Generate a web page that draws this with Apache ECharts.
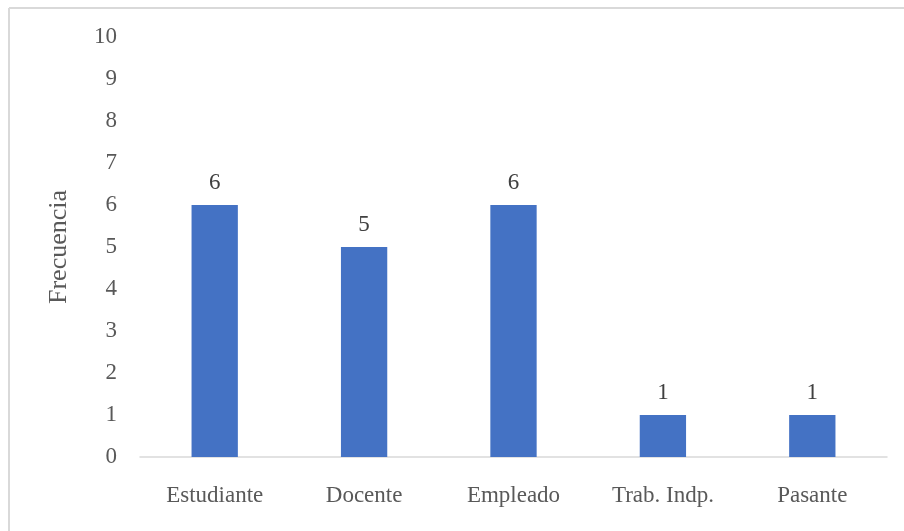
<!DOCTYPE html>
<html>
<head>
<meta charset="utf-8">
<script src="https://cdn.jsdelivr.net/npm/echarts@6/dist/echarts.min.js"></script>
<style>
  html, body { margin: 0; padding: 0; background: #fff; }
  #chart { width: 904px; height: 531px; }
</style>
</head>
<body>
<div id="chart"></div>
<script>
// Occupation categories and their frequencies
const categories = ['Estudiante', 'Docente', 'Empleado', 'Trab. Indp.', 'Pasante'];
const frecuencias = [6, 5, 6, 1, 1];
const yTicks = { min: 0, max: 10, interval: 1 };

const FONT = '"Liberation Serif", "Times New Roman", serif';
const TEXT = '#595959';

const chart = echarts.init(document.getElementById('chart'), null, { renderer: 'canvas' });
chart.setOption({
  animation: false,
  backgroundColor: '#fff',
  graphic: [
    // frame lines along the top and left edges
    { type: 'line', shape: { x1: 9, y1: 8, x2: 904, y2: 8 }, style: { stroke: '#d9d9d9', lineWidth: 2 } },
    { type: 'line', shape: { x1: 9, y1: 8, x2: 9, y2: 531 }, style: { stroke: '#d9d9d9', lineWidth: 2 } }
  ],
  grid: { left: 140, right: 17, top: 37, bottom: 74, containLabel: false },
  xAxis: {
    type: 'category',
    data: categories,
    axisLine: { show: true, lineStyle: { color: '#d9d9d9', width: 1.5 } },
    axisTick: { show: false },
    axisLabel: { color: TEXT, fontFamily: FONT, fontSize: 23, margin: 27 }
  },
  yAxis: {
    type: 'value',
    min: yTicks.min,
    max: yTicks.max,
    interval: yTicks.interval,
    name: 'Frecuencia',
    nameLocation: 'middle',
    nameGap: 68,
    nameTextStyle: { color: TEXT, fontFamily: FONT, fontSize: 26 },
    axisLine: { show: false },
    axisTick: { show: false },
    splitLine: { show: false },
    axisLabel: { color: TEXT, fontFamily: FONT, fontSize: 23, margin: 23 }
  },
  series: [{
    type: 'bar',
    data: frecuencias,
    barWidth: '31%',
    itemStyle: { color: '#4472c4' },
    label: {
      show: true,
      position: 'top',
      distance: 11,
      color: '#404040',
      fontFamily: FONT,
      fontSize: 23
    }
  }]
});
</script>
</body>
</html>
